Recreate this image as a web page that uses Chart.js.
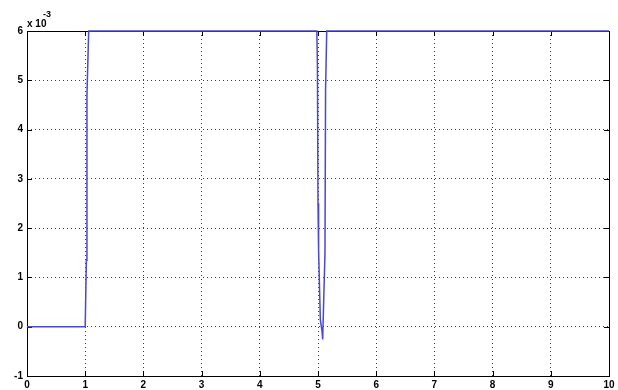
<!DOCTYPE html>
<html>
<head>
<meta charset="utf-8">
<script src="https://cdn.jsdelivr.net/npm/chart.js@4/dist/chart.umd.min.js"></script>
<style>
  html, body { margin: 0; padding: 0; background: #fff; }
  #wrap { width: 618px; height: 390px; position: relative; }
</style>
</head>
<body>
<div id="wrap"><canvas id="plot"></canvas></div>
<script>
// data (y in units of 1e-3)
const timeValues = [0, 1.0, 1.02, 1.03, 1.06, 1.08, 4.98, 4.99, 5.0, 5.01, 5.04, 5.07, 5.08, 5.12, 5.13, 5.15, 10];
const signalValues = [0, 0, 1.35, 4.7, 6, 6, 6, 5.3, 2.5, 1.56, 0.14, -0.1, -0.26, 1.5, 4.8, 6, 6];
const xTickValues = [0, 1, 2, 3, 4, 5, 6, 7, 8, 9, 10];
const yTickValues = [-1, 0, 1, 2, 3, 4, 5, 6];
const exponentLabel = "-3";

const points = timeValues.map((t, i) => ({ x: t, y: signalValues[i] }));
const labelFont = "'Liberation Sans', Arial, sans-serif";

// box + inward ticks, matlab style (drawn under the line)
const matlabFrame = {
  id: "matlabFrame",
  beforeDatasetsDraw(chart) {
    const ctx = chart.ctx;
    const a = chart.chartArea;
    const xs = chart.scales.x;
    const ys = chart.scales.y;
    ctx.save();
    ctx.strokeStyle = "#000";
    ctx.lineWidth = 1;
    ctx.beginPath();
    xTickValues.forEach((v) => {
      const px = Math.round(xs.getPixelForValue(v)) + 0.5;
      ctx.moveTo(px, a.bottom);
      ctx.lineTo(px, a.bottom - 5);
      ctx.moveTo(px, a.top);
      ctx.lineTo(px, a.top + 5);
    });
    yTickValues.forEach((v) => {
      const py = Math.round(ys.getPixelForValue(v)) + 0.5;
      ctx.moveTo(a.left, py);
      ctx.lineTo(a.left + 5, py);
      ctx.moveTo(a.right, py);
      ctx.lineTo(a.right - 5, py);
    });
    ctx.stroke();
    ctx.strokeRect(Math.round(a.left) + 0.5, Math.round(a.top) + 0.5,
      Math.round(a.right - a.left), Math.round(a.bottom - a.top));
    // exponent label
    ctx.fillStyle = "#000";
    ctx.font = "bold 10px " + labelFont;
    ctx.textBaseline = "alphabetic";
    ctx.textAlign = "left";
    ctx.fillText("x 10", a.left, a.top - 4);
    ctx.font = "bold 9px " + labelFont;
    ctx.fillText(exponentLabel, a.left + 16, a.top - 14);
    ctx.restore();
  }
};

const ctx = document.getElementById("plot").getContext("2d");
new Chart(ctx, {
  type: "line",
  data: {
    datasets: [
      {
        data: points,
        borderColor: "rgb(72, 72, 210)",
        borderWidth: 1.5,
        pointRadius: 0,
        tension: 0,
        fill: false,
        clip: 3
      }
    ]
  },
  options: {
    responsive: true,
    maintainAspectRatio: false,
    animation: false,
    layout: { padding: { top: 31, right: 9, left: 0, bottom: 0 } },
    plugins: {
      legend: { display: false },
      tooltip: { enabled: false }
    },
    scales: {
      x: {
        type: "linear",
        min: 0,
        max: 10,
        afterBuildTicks: (scale) => {
          scale.ticks = xTickValues.map((v) => ({ value: v }));
        },
        afterFit: (scale) => { scale.height = 14; },
        grid: {
          color: (c) => (c.tick && (c.tick.value === 0 || c.tick.value === 10)) ? "rgba(0,0,0,0)" : "rgba(0,0,0,0.75)",
          lineWidth: 1,
          drawTicks: false
        },
        border: { display: false, dash: [1, 3] },
        ticks: {
          color: "#000",
          padding: 3,
          maxRotation: 0,
          autoSkip: false,
          font: { family: labelFont, size: 10, weight: "bold" }
        }
      },
      y: {
        type: "linear",
        min: -1,
        max: 6,
        afterBuildTicks: (scale) => {
          scale.ticks = yTickValues.map((v) => ({ value: v }));
        },
        afterFit: (scale) => { scale.width = 27; },
        grid: {
          color: (c) => (c.tick && (c.tick.value === -1 || c.tick.value === 6)) ? "rgba(0,0,0,0)" : "rgba(0,0,0,0.75)",
          lineWidth: 1,
          drawTicks: false
        },
        border: { display: false, dash: [1, 3] },
        ticks: {
          color: "#000",
          padding: 4,
          autoSkip: false,
          font: { family: labelFont, size: 10, weight: "bold" }
        }
      }
    }
  },
  plugins: [matlabFrame]
});
</script>
</body>
</html>
